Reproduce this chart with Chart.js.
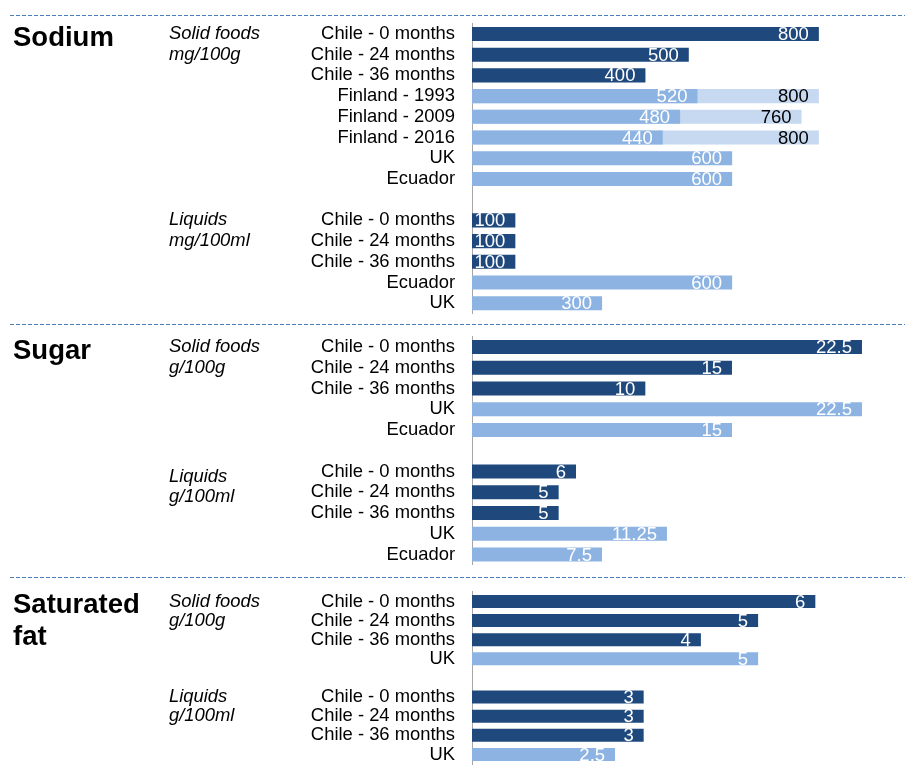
<!DOCTYPE html>
<html>
<head>
<meta charset="utf-8">
<script src="https://cdn.jsdelivr.net/npm/chart.js@4.4.1/dist/chart.umd.min.js"></script>
<style>
  html, body { margin: 0; padding: 0; background: #ffffff; }
  #page { position: relative; width: 905px; height: 765px; overflow: hidden; }
  .panel { position: absolute; left: 0; width: 905px; }
  .sep {
    position: absolute; left: 10px; width: 895px; height: 1px;
    background: repeating-linear-gradient(to right, #4a7ebb 0 4px, transparent 4px 6px);
  }
</style>
</head>
<body>
<div id="page">
  <div class="sep" style="top:15px"></div>
  <div class="sep" style="top:324px"></div>
  <div class="sep" style="top:577px"></div>
  <div class="panel" style="top:16px;height:304px"><canvas id="chart-sodium"></canvas></div>
  <div class="panel" style="top:325px;height:250px"><canvas id="chart-sugar"></canvas></div>
  <div class="panel" style="top:578px;height:187px"><canvas id="chart-fat"></canvas></div>
</div>
<script>
// ===== Data =====
const sodiumLabels = [
  'Chile - 0 months', 'Chile - 24 months', 'Chile - 36 months',
  'Finland - 1993', 'Finland - 2009', 'Finland - 2016', 'UK', 'Ecuador',
  '',
  'Chile - 0 months', 'Chile - 24 months', 'Chile - 36 months', 'Ecuador', 'UK'
];
const sodiumValues = [800, 500, 400, 520, 480, 440, 600, 600, null, 100, 100, 100, 600, 300];
// Finland: upper end of the range (pale bar)
const sodiumUpper = [null, null, null, 800, 760, 800, null, null, null, null, null, null, null, null];

const sugarLabels = [
  'Chile - 0 months', 'Chile - 24 months', 'Chile - 36 months', 'UK', 'Ecuador',
  '',
  'Chile - 0 months', 'Chile - 24 months', 'Chile - 36 months', 'UK', 'Ecuador'
];
const sugarValues = [22.5, 15, 10, 22.5, 15, null, 6, 5, 5, 11.25, 7.5];

const fatLabels = [
  'Chile - 0 months', 'Chile - 24 months', 'Chile - 36 months', 'UK',
  '',
  'Chile - 0 months', 'Chile - 24 months', 'Chile - 36 months', 'UK'
];
const fatValues = [6, 5, 4, 5, null, 3, 3, 3, 2.5];

const THEME = {
  ink: '#000000',
  dark: '#1f497d',
  light: '#8db3e2',
  pale: '#c6d9f1',
  axis: '#a6a6a6',
  font: '"Liberation Sans", Arial, sans-serif',
};

// Section titles / units, drawn next to a row index
const panelText = {
  sodium: { title: ['Sodium'], notes: [{ row: 0, lines: ['Solid foods', 'mg/100g'] }, { row: 9, lines: ['Liquids', 'mg/100ml'] }] },
  sugar: { title: ['Sugar'], notes: [{ row: 0, lines: ['Solid foods', 'g/100g'] }, { row: 6, dy: 5, lines: ['Liquids', 'g/100ml'] }] },
  fat: { title: ['Saturated', 'fat'], notes: [{ row: 0, lines: ['Solid foods', 'g/100g'] }, { row: 5, lines: ['Liquids', 'g/100ml'] }] },
};

const barColor = (labels) => labels.map(l => l.startsWith('Chile') ? THEME.dark : THEME.light);

const textPlugin = {
  id: 'panelText',
  afterDatasetsDraw(chart) {
    const ctx = chart.ctx;
    const y = chart.scales.y;
    const info = chart.options.plugins.panelText;
    ctx.save();

    // value labels at the end of each bar
    ctx.textAlign = 'right';
    ctx.textBaseline = 'middle';
    ctx.font = '18.5px ' + THEME.font;
    chart.data.datasets.forEach((ds, di) => {
      const meta = chart.getDatasetMeta(di);
      meta.data.forEach((bar, i) => {
        const v = ds.data[i];
        if (v === null || v === undefined) return;
        ctx.fillStyle = ds.labelColor;
        ctx.fillText(String(v), bar.x - 10, bar.y + 1);
      });
    });

    // section title
    ctx.textAlign = 'left';
    ctx.textBaseline = 'alphabetic';
    ctx.fillStyle = THEME.ink;
    ctx.font = 'bold 27.5px ' + THEME.font;
    info.title.forEach((t, k) => {
      ctx.fillText(t, 13, y.getPixelForValue(0) + 12 + k * 32);
    });

    // italic unit notes
    ctx.textBaseline = 'middle';
    ctx.font = 'italic 18.4px ' + THEME.font;
    info.notes.forEach(n => {
      n.lines.forEach((t, k) => {
        ctx.fillText(t, 169, y.getPixelForValue(n.row + k) + (n.dy || 0));
      });
    });
    ctx.restore();
  }
};

function makePanel(id, labels, datasets, xMax, pad, text) {
  return new Chart(document.getElementById(id), {
    type: 'bar',
    data: { labels, datasets },
    plugins: [textPlugin],
    options: {
      indexAxis: 'y',
      responsive: true,
      maintainAspectRatio: false,
      animation: false,
      layout: { padding: { top: pad[0], bottom: pad[1], left: 0, right: 25 } },
      datasets: { bar: { categoryPercentage: 1, barPercentage: 0.68, grouped: false, borderWidth: 0 } },
      plugins: {
        legend: { display: false },
        tooltip: { enabled: false },
        panelText: text,
      },
      scales: {
        x: { display: false, min: 0, max: xMax },
        y: {
          afterFit: (s) => { s.width = 472; s.paddingTop = 0; s.paddingBottom = 0; },
          grid: { display: false, drawTicks: false, tickLength: 0 },
          border: { display: true, color: THEME.axis, width: 1 },
          ticks: {
            autoSkip: false,
            padding: 17,
            color: THEME.ink,
            font: { size: 18.4, family: THEME.font },
          }
        }
      }
    }
  });
}

makePanel('chart-sodium', sodiumLabels, [
  { data: sodiumValues, backgroundColor: barColor(sodiumLabels), labelColor: '#ffffff' },
  { data: sodiumUpper, backgroundColor: THEME.pale, labelColor: THEME.ink },
], 941, [7.6, 6.4], panelText.sodium);

makePanel('chart-sugar', sugarLabels, [
  { data: sugarValues, backgroundColor: barColor(sugarLabels), labelColor: '#ffffff' },
], 23.54, [11.6, 10.1], panelText.sugar);

makePanel('chart-fat', fatLabels, [
  { data: fatValues, backgroundColor: barColor(fatLabels), labelColor: '#ffffff' },
], 7.13, [13.9, 1], panelText.fat);
</script>
</body>
</html>
